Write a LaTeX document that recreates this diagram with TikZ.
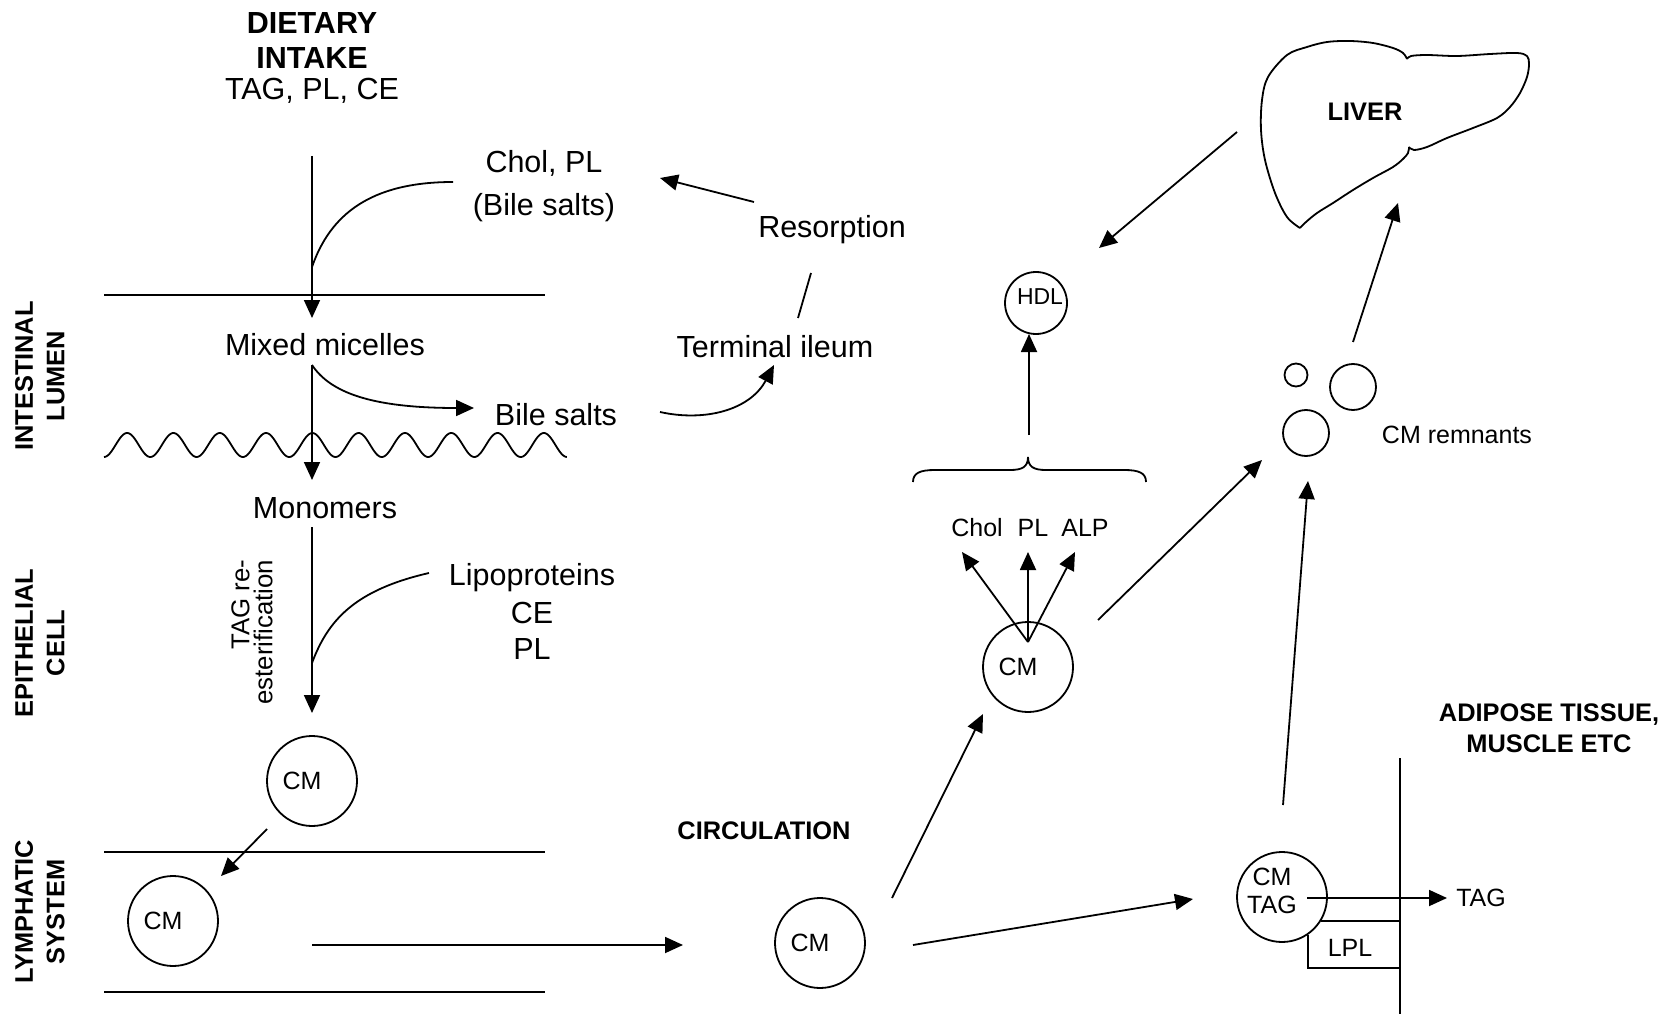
\documentclass[tikz,border=0pt]{standalone}
\usepackage{fontspec}
\setmainfont{Liberation Sans}
\usetikzlibrary{arrows.meta}
\begin{document}
\begin{tikzpicture}[x=0.5pt,y=-0.5pt,line width=0.9pt,
  >={Triangle[length=9pt,width=8pt]},
  txt/.style={inner sep=0pt,font=\fontsize{15.25}{18}\selectfont},
  sm/.style={inner sep=0pt,font=\fontsize{12.5}{14}\selectfont},
  hd/.style={inner sep=0pt,font=\fontsize{15.25}{18}\selectfont\bfseries},
  lab/.style={inner sep=0pt,align=center,font=\fontsize{12.7}{15.75}\selectfont\bfseries},
  ball/.style={circle,draw,inner sep=0pt,minimum size=#1},
  cmtext/.style={sm,xshift=-5pt},
]
\useasboundingbox (0,0) rectangle (1670,1016);

% ---------- side labels ----------
\node[lab,rotate=90] (lumenlab) at (40,376) {INTESTINAL\\LUMEN};
\node[lab,rotate=90] (epilab) at (40,643) {EPITHELIAL\\CELL};
\node[lab,rotate=90] (lymphlab) at (40,912) {LYMPHATIC\\SYSTEM};

% ---------- intake and lumen ----------
\node[hd] (dietary) at (312,23) {DIETARY};
\node[hd] (intake) at (312,58) {INTAKE};
\node[txt] (intakelist) at (312,91) {TAG, PL, CE};
\node[txt] (cholpl) at (544,163) {Chol, PL};
\node[txt] (bile1) at (544,208) {(Bile salts)};
\node[txt] (mixed) at (325,345) {Mixed micelles};
\node[txt] (bile2) at (556,415) {Bile salts};
\node[txt] (monomers) at (325,508) {Monomers};
\node[txt] (lipo) at (532,578) {Lipoproteins};
\node[txt] (ce) at (532,613) {CE};
\node[txt] (pl) at (532,649) {PL};
\node[inner sep=0pt,rotate=90,anchor=east,align=right,
      font=\fontsize{12.9}{11.5}\selectfont] (tagre) at (252,559) {TAG re-\\esterification};
\node[txt] (resorption) at (832,230) {Resorption};
\node[txt] (ileum) at (775,347) {Terminal ileum};

% membranes
\draw (104,295) -- (545,295);
\draw plot[domain=0:10,samples=400,smooth] ({104+46.3*\x},{445+12*cos(360*\x)});
\draw (104,852) -- (545,852);
\draw (104,992) -- (545,992);

% chylomicrons in the cell and the lymph
\node[ball=45pt,label={[cmtext]center:CM}] (cm1) at (312,781) {};
\node[ball=45pt,label={[cmtext]center:CM}] (cm2) at (173,921) {};

% connector end points
\coordinate (dietTop) at (312,156);
\coordinate (dietTip) at (312,318);
\coordinate (cholEnd) at (453,182);
\coordinate (cholJoin) at (312,267);
\coordinate (micTop) at (312,365);
\coordinate (micTip) at (312,480);
\coordinate (bsTip) at (474,408);
\coordinate (monTop) at (312,527);
\coordinate (monTip) at (312,713);
\coordinate (lipoEnd) at (429,573);
\coordinate (lipoJoin) at (312,663);
\coordinate (resFrom) at (754,202);
\coordinate (resTip) at (660,178);
\coordinate (ilA) at (811,273);
\coordinate (ilB) at (798,318);
\coordinate (bsFrom) at (660,412);
\coordinate (ilTip) at (774,365);
\coordinate (cm1Out) at (267,829);
\coordinate (cm2In) at (221,876);
\coordinate (lymFrom) at (312,945);
\coordinate (lymTip) at (683,945);

\draw[->] (dietTop) -- (dietTip);
\draw (cholEnd) .. controls (370,182) and (330,215) .. (cholJoin);
\draw[->] (micTop) -- (micTip);
\draw[->] (micTop) .. controls (330,392) and (370,408) .. (bsTip);
\draw[->] (monTop) -- (monTip);
\draw (lipoEnd) .. controls (355,590) and (328,620) .. (lipoJoin);
\draw[->] (resFrom) -- (resTip);
\draw (ilA) -- (ilB);
\draw[->] (bsFrom) .. controls (705,422) and (750,410) .. (ilTip);
\draw[->] (cm1Out) -- (cm2In);
\draw[->] (lymFrom) -- (lymTip);

% ---------- circulation ----------
\node[lab] (circ) at (764,831) {CIRCULATION};
\node[ball=45pt,label={[cmtext]center:CM}] (cm3) at (820,943) {};
\node[ball=45pt,label={[cmtext]center:CM}] (cm4) at (1028,667) {};
\node[ball=45pt,label={[sm,align=center,xshift=-5pt,yshift=3pt]center:CM\\TAG}] (cmtag) at (1282,897) {};
\node[ball=31pt,label={[inner sep=0pt,font=\fontsize{11.5}{13}\selectfont,xshift=2pt,yshift=3pt]center:HDL}] (hdl) at (1036,303) {};
\node[ball=11.5pt] (rem1) at (1296,375) {};
\node[ball=23pt] (rem2) at (1353,387) {};
\node[ball=23pt] (rem3) at (1306,433) {};
\node[sm] (remlab) at (1457,435) {CM remnants};

\node[sm] (chol) at (977,528) {Chol};
\node[sm] (plx) at (1033,528) {PL};
\node[sm] (alp) at (1085,528) {ALP};

% brace over the surface components
\draw (913,482) .. controls (913,473) and (920,470) .. (935,470) -- (1010,470)
      .. controls (1022,470) and (1028,467) .. (1028,457)
      .. controls (1028,467) and (1034,470) .. (1046,470) -- (1124,470)
      .. controls (1139,470) and (1146,473) .. (1146,482);

% liver outline
\node[lab] (liver) at (1365,112) {LIVER};
\draw[line join=round] plot[smooth,tension=0.55] coordinates {(1300,228) (1287,217) (1275,193) (1265,160) (1261,130) (1262,100) (1268,77) (1287,55) (1307,47) (1327,42) (1350,41) (1373,43) (1393,48) (1403,53) (1407,59)};
\draw[line join=round] plot[smooth,tension=0.55] coordinates {(1407,59) (1411,56) (1427,55) (1457,56) (1490,54) (1517,53) (1527,56) (1529,64) (1527,77) (1520,93) (1510,107) (1497,118) (1473,128) (1447,138) (1427,147) (1414,150) (1409,147)};
\draw[line join=round] plot[smooth,tension=0.55] coordinates {(1409,147) (1408,153) (1403,159) (1393,167) (1373,178) (1353,190) (1333,203) (1317,213) (1306,222) (1300,228)};

% tissue boundary and lipoprotein lipase
\node[lab] (adipose) at (1549,728) {\fontsize{12.7}{13.5}\selectfont ADIPOSE TISSUE,\\MUSCLE ETC};
\coordinate (wallTop) at (1400,758);
\coordinate (wallBot) at (1400,1014);
\draw (wallTop) -- (wallBot);
\coordinate (lplBL) at (1308,968);
\coordinate (lplBR) at (1400,968);
\draw (cmtag.-32) -- (cmtag.-32 -| wallTop);
\draw (cmtag.-56) |- (lplBR);
\node[sm] (lpl) at (1350,948) {LPL};
\node[sm] (tagout) at (1481,898) {TAG};

\coordinate (c3a) at (892,898);
\coordinate (c4tip) at (983,714);
\coordinate (c3b) at (913,945);
\coordinate (ctTip) at (1193,899);
\coordinate (c4src) at (1028,642);
\coordinate (cholTip) at (962,552);
\coordinate (plTip) at (1028,552);
\coordinate (alpTip) at (1075,552);
\coordinate (c4out) at (1098,620);
\coordinate (remTipA) at (1262,460);
\coordinate (hdlFrom) at (1029,435);
\coordinate (hdlTip) at (1029,334);
\coordinate (livFrom) at (1237,132);
\coordinate (livTip) at (1099,248);
\coordinate (remOut) at (1353,342);
\coordinate (remLivTip) at (1398,203);
\coordinate (ctOut) at (1283,805);
\coordinate (remTipB) at (1308,481);
\coordinate (tagFrom) at (1307,898);
\coordinate (tagTip) at (1447,898);

\draw[->] (c3a) -- (c4tip);
\draw[->] (c3b) -- (ctTip);
\draw[->] (c4src) -- (cholTip);
\draw[->] (c4src) -- (plTip);
\draw[->] (c4src) -- (alpTip);
\draw[->] (c4out) -- (remTipA);
\draw[->] (hdlFrom) -- (hdlTip);
\draw[->] (livFrom) -- (livTip);
\draw[->] (remOut) -- (remLivTip);
\draw[->] (ctOut) -- (remTipB);
\draw[->] (tagFrom) -- (tagTip);
\end{tikzpicture}
\end{document}
